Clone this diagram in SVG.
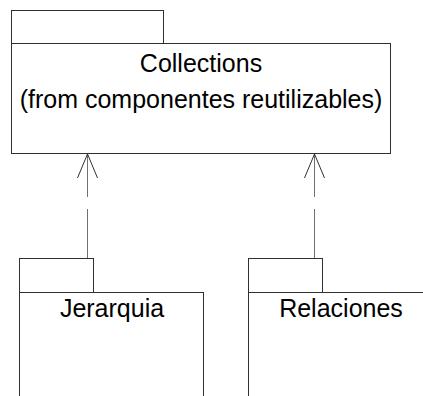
<svg xmlns="http://www.w3.org/2000/svg" width="423" height="396" viewBox="0 0 423 396">
  <style>
    .pkg { fill: #ffffff; stroke: #303030; stroke-width: 1; }
    .lbl { font-family: "Liberation Sans", Arial, sans-serif; font-size: 25px; fill: #000000; text-anchor: middle; }
    .dep { fill: none; stroke: #707070; stroke-width: 1; stroke-dasharray: 49 12; }
    .head { fill: none; stroke: #303030; stroke-width: 1; }
  </style>
  <rect width="423" height="396" fill="#ffffff"/>

  <g id="collections">
    <rect class="pkg" x="11.5" y="10.5" width="152" height="33"/>
    <rect class="pkg" x="11.5" y="43.5" width="379" height="110"/>
    <text class="lbl" x="201" y="72">Collections</text>
    <text class="lbl" x="201" y="108">(from componentes reutilizables)</text>
  </g>

  <g id="jerarquia">
    <rect class="pkg" x="19.5" y="258.5" width="74" height="34"/>
    <rect class="pkg" x="19.5" y="292.5" width="184" height="120"/>
    <text class="lbl" x="112" y="317">Jerarquia</text>
  </g>

  <g id="relaciones">
    <rect class="pkg" x="248.5" y="258.5" width="74" height="34"/>
    <rect class="pkg" x="248.5" y="292.5" width="190" height="120"/>
    <text class="lbl" x="341" y="317">Relaciones</text>
  </g>

  <g id="connectors">
    <line class="dep" x1="87.5" y1="258" x2="87.5" y2="154"/>
    <polyline class="head" points="77.5,178 87.5,154 97.5,178"/>
    <line class="dep" x1="314.5" y1="258" x2="314.5" y2="154"/>
    <polyline class="head" points="304.5,178 314.5,154 324.5,178"/>
  </g>
</svg>
